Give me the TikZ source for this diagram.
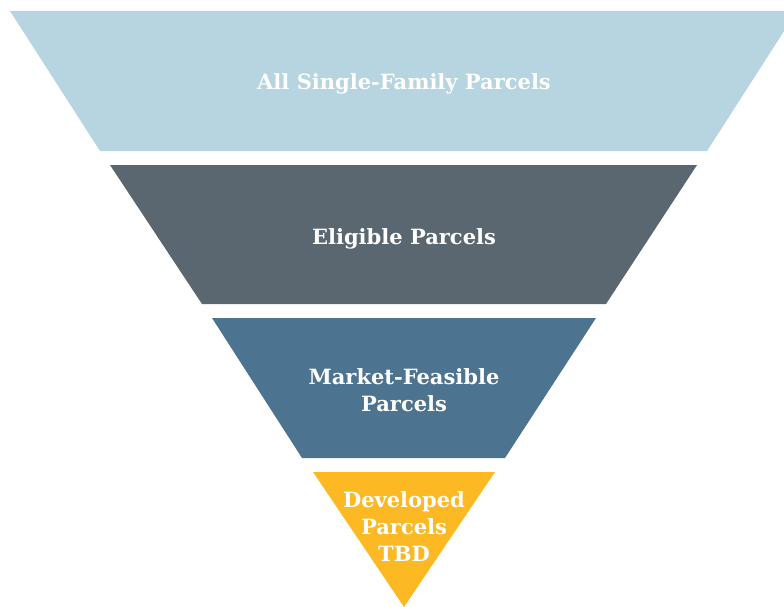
\documentclass[tikz,border=0pt]{standalone}
\usepackage{fontspec}
\setmainfont{DejaVu Serif}
\definecolor{bandA}{HTML}{B7D4E1}
\definecolor{bandB}{HTML}{5A6770}
\definecolor{bandC}{HTML}{4C7490}
\definecolor{bandD}{HTML}{FDB924}
\begin{document}
\begin{tikzpicture}[x=1pt,y=-1pt,
  lbl/.style={text=white,font=\bfseries\fontsize{21}{27}\selectfont,align=center,inner sep=0pt}]
\useasboundingbox (0,0) rectangle (784,607);
\clip (0,0) rectangle (784,607);
\fill[bandA] (10,11) -- (797,11) -- (707,151) -- (100,151) -- cycle;
\fill[bandB] (110,165) -- (697,165) -- (606,304) -- (202,304) -- cycle;
\fill[bandC] (212,318) -- (596,318) -- (505,458) -- (302,458) -- cycle;
\fill[bandD] (313,472) -- (495,472) -- (404,607) -- cycle;
\node[lbl] (t1) at (404,84) {All Single-Family Parcels};
\node[lbl] (t2) at (404,239) {Eligible Parcels};
\node[lbl] (t3) at (404,390) {Market-Feasible\\Parcels};
\node[lbl] (t4) at (404,527) {Developed\\Parcels\\TBD};
\end{tikzpicture}
\end{document}
